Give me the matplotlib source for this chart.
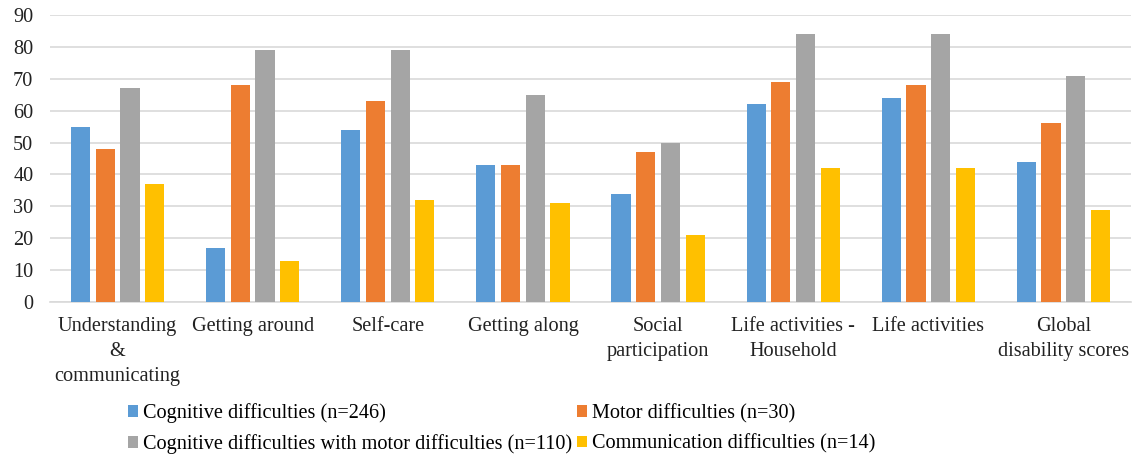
import numpy as np
import matplotlib
matplotlib.use('Agg')
import matplotlib.pyplot as plt

categories = ['Understanding\n&\ncommunicating', 'Getting around', 'Self-care', 'Getting along',
              'Social\nparticipation', 'Life activities -\nHousehold', 'Life activities',
              'Global\ndisability scores']

cognitive = [55, 17, 54, 43, 34, 62, 64, 44]
motor = [48, 68, 63, 43, 47, 69, 68, 56]
cognitive_motor = [67, 79, 79, 65, 50, 84, 84, 71]
communication = [37, 13, 32, 31, 21, 42, 42, 29]

series_names = ['Cognitive difficulties (n=246)', 'Motor difficulties (n=30)',
                'Cognitive difficulties with motor difficulties (n=110)',
                'Communication difficulties (n=14)']
colors = ['#5B9BD5', '#ED7D31', '#A5A5A5', '#FFC000']

plt.rcParams['font.family'] = ['Liberation Serif', 'DejaVu Serif']

fig = plt.figure(figsize=(11.36, 4.66), dpi=100)
ax = fig.add_axes([50 / 1136, 1 - 302 / 466, 1081 / 1136, 287 / 466])

x = np.arange(len(categories))
width = 0.142
step = 0.183
handles = []
for i, (vals, name, c) in enumerate(zip([cognitive, motor, cognitive_motor, communication],
                                        series_names, colors)):
    b = ax.bar(x + (i - 1.5) * step, vals, width, color=c, label=name, zorder=3)
    handles.append(b)

ax.set_ylim(0, 90)
ax.set_xlim(-0.5, len(categories) - 0.5)
ax.set_yticks(range(0, 91, 10))
ax.yaxis.grid(True, color='#d9d9d9', linewidth=1.2, zorder=0)
ax.set_xticks(x)
ax.set_xticklabels(categories, fontsize=14.6, linespacing=1.42)
ax.tick_params(axis='both', length=0, labelsize=14.6, colors='#222222')
ax.tick_params(axis='x', pad=11)
ax.tick_params(axis='y', pad=12)
for s in ['top', 'right', 'left']:
    ax.spines[s].set_visible(False)
ax.spines['bottom'].set_color('#d9d9d9')
ax.spines['bottom'].set_linewidth(1.2)

order = [0, 2, 1, 3]
fig.legend([handles[i] for i in order], [series_names[i] for i in order],
           ncol=2, loc='upper left', bbox_to_anchor=(112 / 1136, 1 - 387 / 466),
           frameon=False, fontsize=14.6, handlelength=0.5, handleheight=0.5,
           handletextpad=0.25, columnspacing=0.2, labelspacing=0.55,
           borderpad=0.3)

fig.savefig('out.png', dpi=100)
